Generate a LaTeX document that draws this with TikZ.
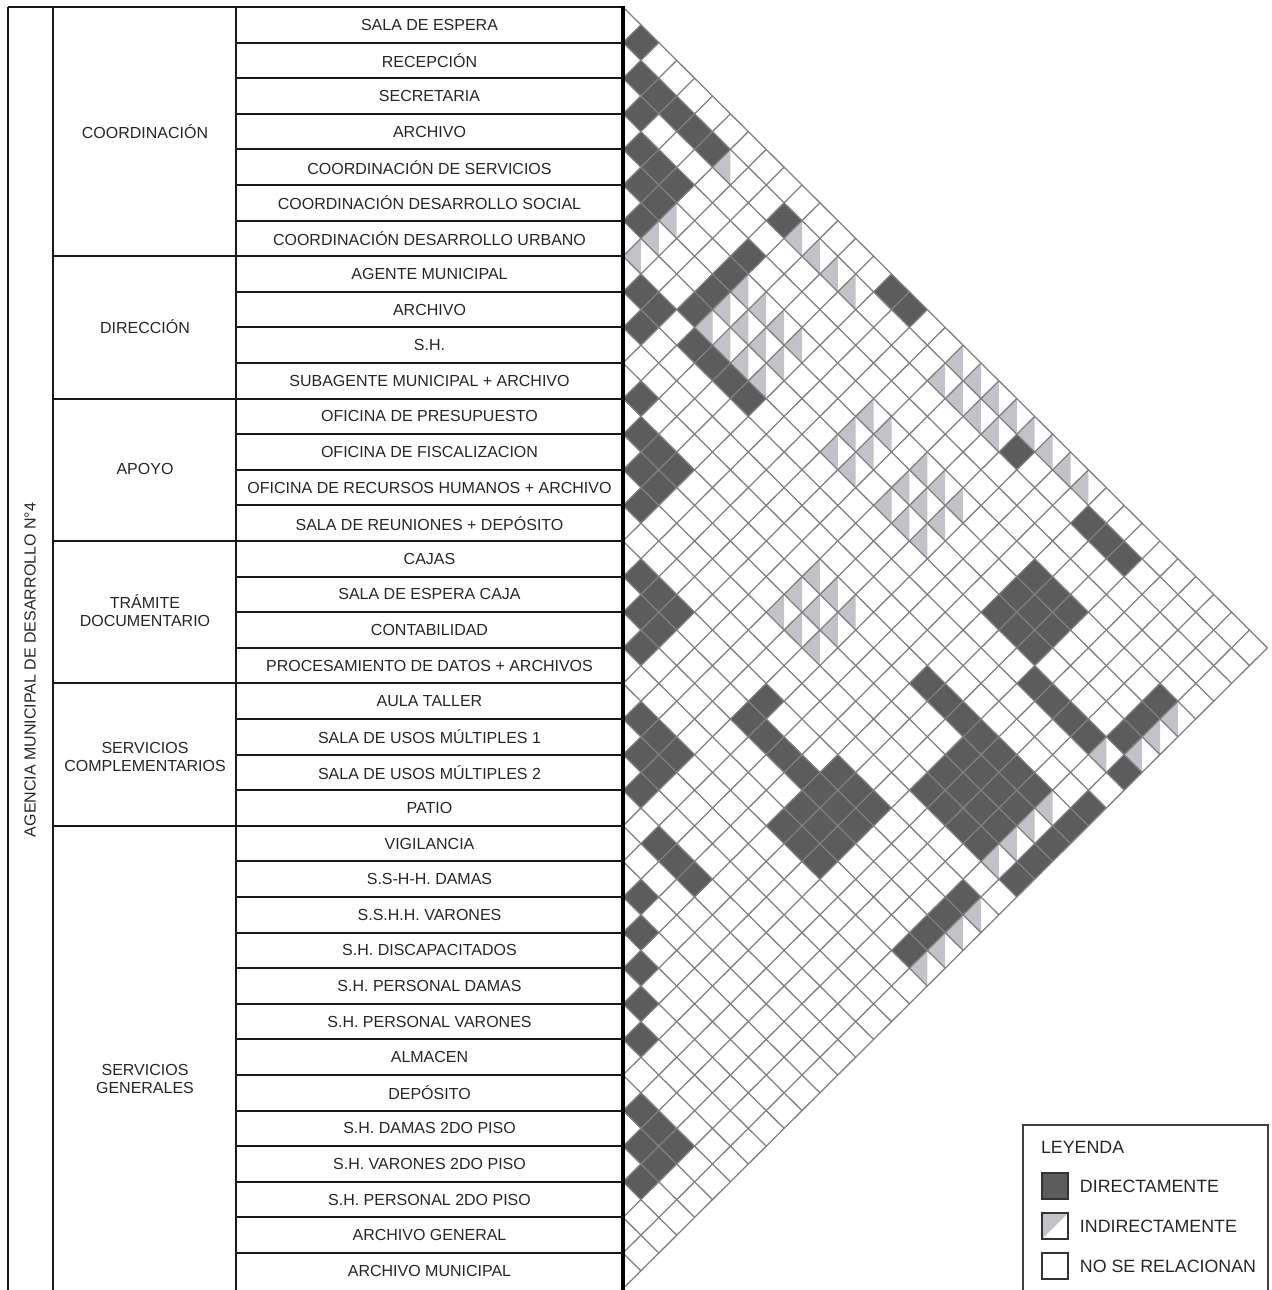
\documentclass[tikz,border=0pt]{standalone}
\usepackage{fontspec}
\setmainfont{Liberation Sans}
\usetikzlibrary{positioning}
\definecolor{cellDark}{RGB}{92,92,92}
\definecolor{cellLight}{RGB}{194,194,200}
\definecolor{gridGray}{RGB}{128,128,128}
\begin{document}
\begin{tikzpicture}[x=0.5pt, y=-0.5pt,
  tablerule/.style={line width=1pt, black!90},
  gridline/.style={line width=0.65pt, gridGray},
  roomname/.style={font=\fontsize{8}{9}\selectfont, text=black!85},
  zonename/.style={font=\fontsize{8}{9}\selectfont, text=black!85, align=center},
  legsquare/.style={draw=black!80, line width=0.9pt, minimum size=13pt, inner sep=0pt},
  legtext/.style={font=\fontsize{8.9}{10}\selectfont, text=black!85}
]
\useasboundingbox (0,0) rectangle (1271,1290);

% relation matrix, cell (i,j) sits at d=j-i, t=i+j+1
\begin{scope}[shift={(623,7)}, x={(8.95pt,0pt)}, y={(0pt,-8.9pt)}]
  % directamente
  \foreach \i/\j in {0/1,1/2,1/3,1/4,1/5,1/6,2/3,3/4,3/5,3/6,4/5,4/6,5/6,
      1/10,0/15,0/16,1/23,1/27,1/28,1/29,
      7/8,7/9,8/9,3/10,4/10,5/10,6/10,7/11,7/12,7/13,7/14,10/11,
      11/12,11/13,11/14,12/13,12/14,13/14,
      15/16,15/17,15/18,16/17,16/18,17/18,
      19/20,19/21,19/22,20/21,20/22,21/22,
      15/23,16/23,16/24,16/25,16/26,
      15/27,15/28,15/29,16/27,16/28,16/29,17/27,17/28,17/29,18/27,18/28,18/29,
      4/27,4/28,4/29,5/27,5/28,5/29,6/27,6/28,6/29,
      10/27,10/28,10/29,15/34,16/34,17/34,18/34,
      7/30,7/31,7/32,7/33,7/35,4/34,5/34,6/34,
      10/30,10/31,10/32,10/33,11/30,11/31,11/32,11/33,
      12/30,12/31,12/32,12/33,13/30,13/31,13/32,13/33,
      9/35,10/35,11/35,12/35,13/35,
      22/24,22/25,22/26,24/25,25/26,26/27,27/28,28/29,
      30/31,30/32,30/33,31/32,31/33,32/33}
    \fill[cellDark] ({\j-\i-1},{\i+\j+1}) -- ({\j-\i},{\i+\j}) -- ({\j-\i+1},{\i+\j+1})
      -- ({\j-\i},{\i+\j+2}) -- cycle;
  % indirectamente
  \foreach \i/\j in {1/7,4/7,5/7,6/7,1/11,1/12,1/13,1/14,
      4/11,4/12,4/13,4/14,5/11,5/12,5/13,5/14,6/11,6/12,6/13,6/14,
      4/18,4/19,5/18,5/19,6/18,6/19,
      4/21,4/22,4/23,5/21,5/22,5/23,6/21,6/22,6/23,
      10/21,10/22,10/23,11/21,11/22,11/23,12/21,12/22,12/23,
      0/19,0/20,0/21,0/22,0/23,0/24,0/25,0/26,1/19,1/20,1/21,1/22,
      7/34,4/35,5/35,6/35,10/34,11/34,12/34,13/34,
      15/35,16/35,17/35,18/35}
    \fill[cellLight] ({\j-\i-1},{\i+\j+1}) -- ({\j-\i},{\i+\j}) -- ({\j-\i},{\i+\j+2}) -- cycle;
  % grid
  \foreach \k in {0,...,36} {
    \draw[gridline] (0,2*\k) -- ({36-\k},{36+\k});
    \draw[gridline] (0,2*\k) -- (\k,\k);
  }
\end{scope}

% table
\draw[tablerule] (8,7) -- (623,7);
\foreach \x in {8,53,236} \draw[tablerule] (\x,7) -- (\x,1290);
\draw[line width=1.6pt, black] (623,6) -- (623,1290);
\foreach \k in {1,...,35} \draw[tablerule] (236,{7+35.6*\k}) -- (623,{7+35.6*\k});
\foreach \k in {7,11,15,19,23} \draw[tablerule] (53,{7+35.6*\k}) -- (236,{7+35.6*\k});

\foreach \name [count=\k from 0] in {SALA DE ESPERA, RECEPCIÓN, SECRETARIA, ARCHIVO,
    COORDINACIÓN DE SERVICIOS, COORDINACIÓN DESARROLLO SOCIAL, COORDINACIÓN DESARROLLO URBANO,
    AGENTE MUNICIPAL, ARCHIVO, S.H., SUBAGENTE MUNICIPAL + ARCHIVO,
    OFICINA DE PRESUPUESTO, OFICINA DE FISCALIZACION, OFICINA DE RECURSOS HUMANOS + ARCHIVO,
    SALA DE REUNIONES + DEPÓSITO, CAJAS, SALA DE ESPERA CAJA, CONTABILIDAD,
    PROCESAMIENTO DE DATOS + ARCHIVOS, AULA TALLER, SALA DE USOS MÚLTIPLES 1,
    SALA DE USOS MÚLTIPLES 2, PATIO, VIGILANCIA, S.S-H-H. DAMAS, S.S.H.H. VARONES,
    S.H. DISCAPACITADOS, S.H. PERSONAL DAMAS, S.H. PERSONAL VARONES, ALMACEN, DEPÓSITO,
    S.H. DAMAS 2DO PISO, S.H. VARONES 2DO PISO, S.H. PERSONAL 2DO PISO, ARCHIVO GENERAL,
    ARCHIVO MUNICIPAL}
  \node[roomname] (room\k) at (429.5,{24.8+35.6*\k}) {\name};

\node[zonename] (zoneCoord) at (145,131.6) {COORDINACIÓN};
\node[zonename] (zoneDir) at (145,327) {DIRECCIÓN};
\node[zonename] (zoneApoyo) at (145,469) {APOYO};
\node[zonename] (zoneTram) at (145,611) {TRÁMITE\\DOCUMENTARIO};
\node[zonename] (zoneCompl) at (145,757) {SERVICIOS\\COMPLEMENTARIOS};
\node[zonename] (zoneGen) at (145,1079) {SERVICIOS\\GENERALES};
\node[zonename, rotate=90] (agency) at (30,670) {AGENCIA MUNICIPAL DE DESARROLLO N°4};

% legend
\draw[line width=1pt, black!75] (1023,1125) rectangle (1268,1300);
\node[legtext, anchor=west] (legTitle) at (1034,1147) {LEYENDA};
\node[legsquare, fill=cellDark] (sqDirect) at (1055,1186) {};
\node[legsquare] (sqIndirect) at (1055,1226) {};
\fill[cellLight] (sqIndirect.north west) -- (sqIndirect.north east) -- (sqIndirect.south west) -- cycle;
\node[legsquare] at (sqIndirect) {};
\node[legsquare, fill=white] (sqNone) at (1055,1266) {};
\node[legtext, right=2pt of sqDirect] (txtDirect) {DIRECTAMENTE};
\node[legtext, right=2pt of sqIndirect] (txtIndirect) {INDIRECTAMENTE};
\node[legtext, right=2pt of sqNone] (txtNone) {NO SE RELACIONAN};
\end{tikzpicture}
\end{document}
